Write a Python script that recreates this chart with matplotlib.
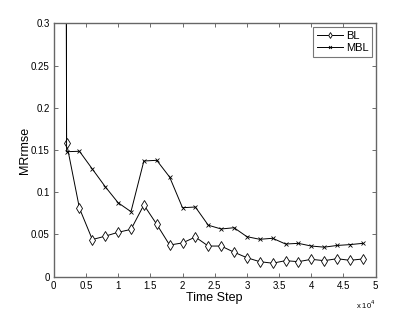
import matplotlib
matplotlib.use("Agg")
import matplotlib.pyplot as plt

matplotlib.rc("font", family=["Liberation Sans", "DejaVu Sans"], size=7)

# Data
time_step = [0, 2000, 4000, 6000, 8000, 10000, 12000, 14000, 16000, 18000,
             20000, 22000, 24000, 26000, 28000, 30000, 32000, 34000, 36000,
             38000, 40000, 42000, 44000, 46000, 48000]
bl = [10.0, 0.158, 0.081, 0.044, 0.048, 0.0526, 0.056, 0.085, 0.062, 0.0375,
      0.040, 0.047, 0.0363, 0.0363, 0.029, 0.0225, 0.0178, 0.016, 0.019,
      0.0178, 0.0206, 0.019, 0.0213, 0.0194, 0.021]
mbl = [10.0, 0.148, 0.1485, 0.1275, 0.1066, 0.0876, 0.077, 0.137, 0.1378,
       0.118, 0.0817, 0.0825, 0.061, 0.0565, 0.058, 0.0474, 0.0443, 0.0455,
       0.0387, 0.0395, 0.0363, 0.035, 0.037, 0.038, 0.0395]
x_ticks = [0, 5000, 10000, 15000, 20000, 25000, 30000, 35000, 40000, 45000, 50000]
x_tick_labels = ["0", "0.5", "1", "1.5", "2", "2.5", "3", "3.5", "4", "4.5", "5"]
y_ticks = [0, 0.05, 0.1, 0.15, 0.2, 0.25, 0.3]
y_tick_labels = ["0", "0.05", "0.1", "0.15", "0.2", "0.25", "0.3"]

figure = plt.figure(figsize=(4.15, 3.12), dpi=100)
axes = figure.add_axes([0.1294, 0.1131, 0.7759, 0.8122])

axes.plot(time_step, bl, color="k", linewidth=0.7, marker="d",
          markersize=5, markerfacecolor="white", markeredgecolor="k",
          markeredgewidth=0.6, label="BL")
axes.plot(time_step, mbl, color="k", linewidth=0.7, marker="x",
          markersize=3.5, markeredgewidth=0.6, label="MBL")

axes.set_xlim(0, 50000)
axes.set_ylim(0, 0.3)
axes.set_xticks(x_ticks)
axes.set_xticklabels(x_tick_labels)
axes.set_yticks(y_ticks)
axes.set_yticklabels(y_tick_labels)
axes.tick_params(direction="in", top=True, right=True, length=3,
                 width=0.6, color="#555555", labelsize=7, pad=3)
for spine in axes.spines.values():
    spine.set_color("#666666")
    spine.set_linewidth(1.0)

axes.set_xlabel("Time Step", fontsize=9, labelpad=1)
axes.set_ylabel("MRrmse", fontsize=9, labelpad=0)
axes.text(1.0, -0.085, r"x 10$^4$", transform=axes.transAxes,
          fontsize=5.5, ha="right", va="top")

legend = axes.legend(loc="upper right", fontsize=8, frameon=True,
                     fancybox=False, borderpad=0.35, handlelength=2.3,
                     handletextpad=0.3, labelspacing=0.2,
                     borderaxespad=0.3, markerscale=0.6)
legend.get_frame().set_edgecolor("#555555")
legend.get_frame().set_linewidth(0.8)

figure.savefig("out.png", dpi=100)
